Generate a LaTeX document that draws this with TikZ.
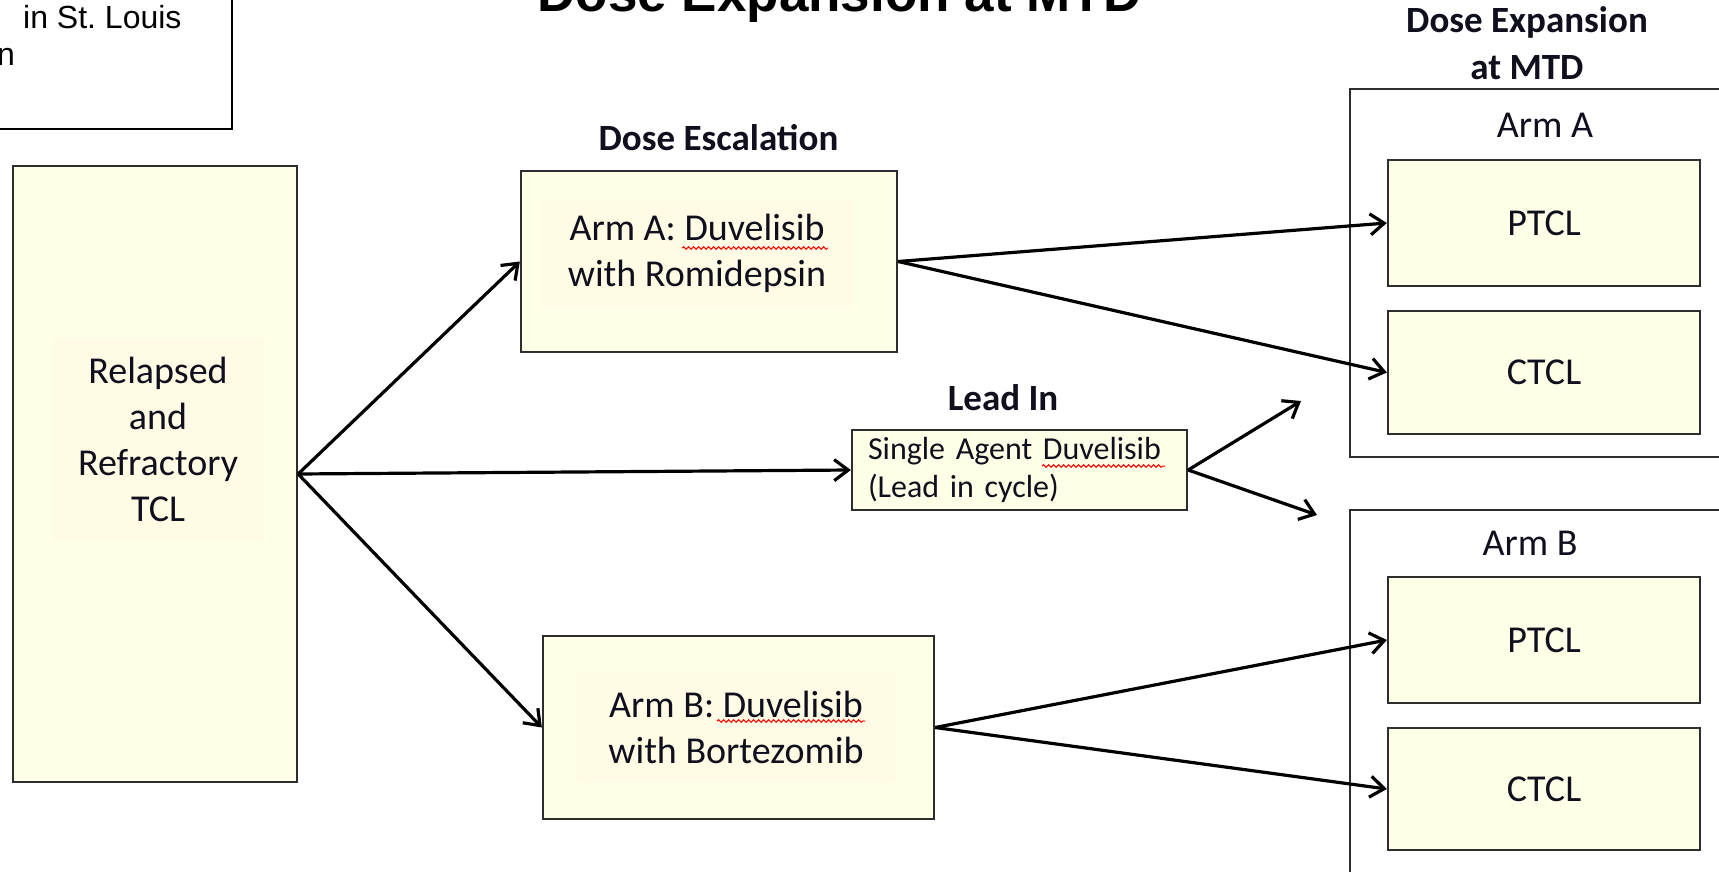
\documentclass[tikz,border=0pt]{standalone}
\usepackage{fontspec}
\setmainfont{Carlito}
\newfontfamily\arialfont{Liberation Sans}
\usetikzlibrary{arrows.meta,decorations.pathmorphing}
\definecolor{boxfill}{RGB}{255,255,231}
\definecolor{txtfill}{RGB}{255,251,228}
\definecolor{edge}{RGB}{45,45,45}
\definecolor{ink}{RGB}{15,15,30}
\frenchspacing
\tikzset{
  stagebox/.style={draw=edge, line width=2.3pt, fill=boxfill, inner sep=0pt, text=ink,
    font=\fontsize{38}{46}\selectfont},
  txtarea/.style={fill=txtfill, inner sep=0pt, text=ink, align=center,
    font=\fontsize{38}{46}\selectfont},
  hdr/.style={font=\bfseries\fontsize{37}{47}\selectfont, text=ink, inner sep=0pt},
  lbl/.style={font=\fontsize{38}{46}\selectfont, text=ink, inner sep=0pt, anchor=base},
  grp/.style={draw=edge, line width=1.8pt},
  arr/.style={-{Straight Barb[length=14pt,width=21pt]}, line width=3.2pt, draw=black},
  spellmark/.style={draw=red, line width=1pt, decorate,
    decoration={snake, amplitude=1.3pt, segment length=5pt}},
}
\begin{document}
\begin{tikzpicture}[x=1pt,y=-1pt]
\useasboundingbox (0,0) rectangle (1719,872);
\clip (0,0) rectangle (1719,872);
% top-left cut-off box
\draw[line width=1.6pt, draw=black] (-10,-10) rectangle (232,129);
\node[font=\arialfont\fontsize{32}{37}\selectfont, anchor=base west, inner sep=0pt] (tl1) at (23,29) {in St. Louis};
\node[font=\arialfont\fontsize{32}{37}\selectfont, anchor=base east, inner sep=0pt] (tl2) at (15,66) {n};
% title
\node[font=\arialfont\bfseries\fontsize{53}{60}\selectfont, anchor=base, inner sep=0pt] (title) at (839.5,12) {Dose Expansion at MTD};
% headers
\node[hdr, anchor=base] (hEsc) at (718.5,150) {Dose Escalation};
\node[hdr, anchor=base] (hLead) at (1003,410) {Lead In};
\node[hdr, align=center] (hExp) at (1527,43.5) {Dose Expansion\\at MTD};
% groups
\draw[grp] (1350,89) rectangle (1740,457);
\draw[grp] (1350,510) rectangle (1740,890);
\node[lbl] (armAlbl) at (1545,138) {Arm A};
\node[lbl] (armBlbl) at (1530,555) {Arm B};
% main boxes
\node[stagebox, minimum width=284pt, minimum height=616pt] (rel) at (155,474) {};
\node[txtarea, minimum width=212pt, minimum height=202pt] (reltext) at (158,439) {Relapsed\\and\\Refractory\\TCL};
\node[stagebox, minimum width=376pt, minimum height=181pt] (armA) at (709,261.5) {};
\node[txtarea, minimum width=310pt, minimum height=107pt] (armAtext) at (697,253.5) {Arm A: Duvelisib\\with Romidepsin};
\node[stagebox, minimum width=391pt, minimum height=183pt] (armB) at (738.5,727.5) {};
\node[txtarea, minimum width=318pt, minimum height=110pt] (armBtext) at (736,727) {Arm B: Duvelisib\\with Bortezomib};
\node[stagebox, minimum width=335pt, minimum height=80pt, text width=303pt, align=left, inner xsep=16pt,
  font=\fontsize{32}{38}\selectfont] (lead) at (1019.5,470) {Single Agent Duvelisib\\(Lead in cycle)};
% spell-check marks
\draw[spellmark] (682,248) -- (828,248);
\draw[spellmark] (717,721) -- (865,721);
\draw[spellmark] (1042,466) -- (1165,466);
% right boxes
\node[stagebox, minimum width=312pt, minimum height=126pt] (aP) at (1544,223) {PTCL};
\node[stagebox, minimum width=312pt, minimum height=123pt] (aC) at (1544,372.5) {CTCL};
\node[stagebox, minimum width=312pt, minimum height=126pt] (bP) at (1544,640) {PTCL};
\node[stagebox, minimum width=312pt, minimum height=122pt] (bC) at (1544,789) {CTCL};
% arrows
\coordinate (leadUp) at (1301,401);
\coordinate (leadDown) at (1317,515);
\draw[arr] (rel.east) -- (armA.west);
\draw[arr] (rel.east) -- (lead.west);
\draw[arr] (rel.east) -- (armB.west);
\draw[arr] (armA.east) -- (aP.west);
\draw[arr] (armA.east) -- (aC.west);
\draw[arr] (armB.east) -- (bP.west);
\draw[arr] (armB.east) -- (bC.west);
\draw[arr] (lead.east) -- (leadUp);
\draw[arr] (lead.east) -- (leadDown);
\end{tikzpicture}
\end{document}
